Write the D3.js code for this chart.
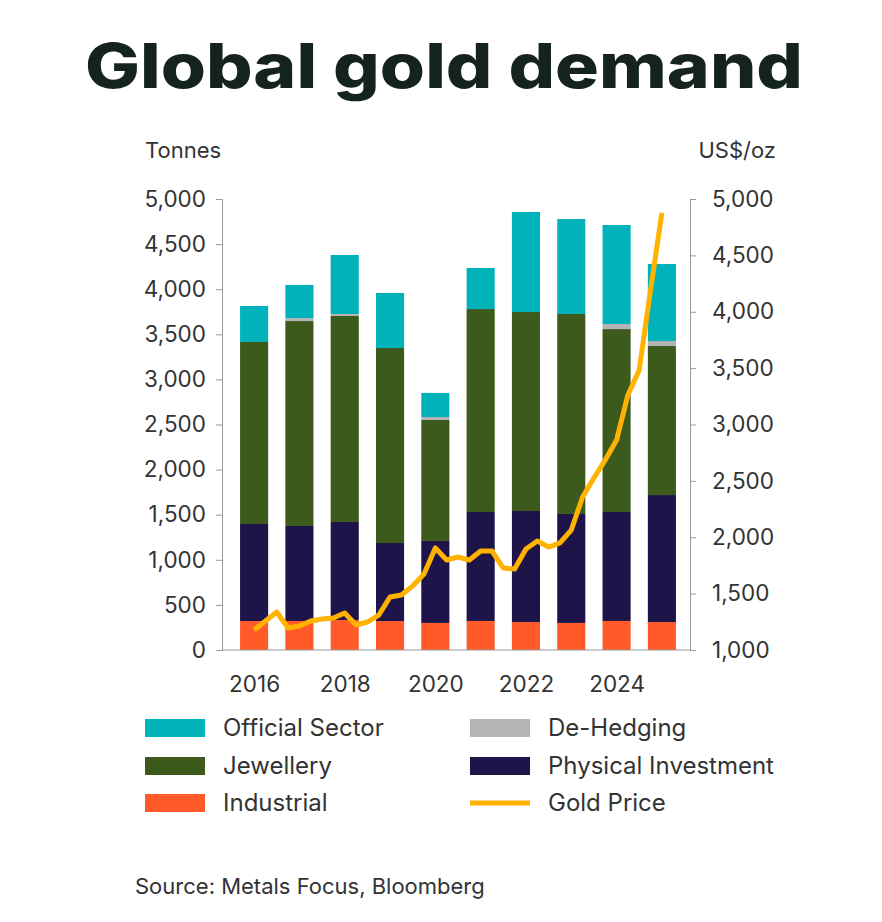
<!DOCTYPE html><html><head><meta charset="utf-8"><script src="https://cdn.jsdelivr.net/npm/d3@7"></script>
<style>body{margin:0;background:#fff}</style></head><body><svg id="c" width="882" height="922"></svg>
<script>
const years=[2016,2017,2018,2019,2020,2021,2022,2023,2024,2025];
const industrial=[321,322,333,321,300,322,310,300,322,310];
const physical=[1076,1053,1086,865,908,1208,1231,1208,1208,1408];
const jewellery=[2018,2272,2284,2162,1342,2250,2206,2217,2028,1652];
const dehedging=[0,33,22,0,33,0,0,0,56,55];
const official=[399,367,654,610,267,455,1109,1053,1098,854];
const priceQuarter=d3.range(37).map(i=>2016+i*0.25);
const price=[1177,1257,1337,1195,1213,1257,1275,1284,1328,1222,1248,1310,1470,1488,1568,1674,1905,1798,1825,1798,1878,1878,1727,1718,1896,1967,1913,1950,2064,2357,2525,2685,2862,3262,3484,4193,4876];
const leftTicks=[0,500,1000,1500,2000,2500,3000,3500,4000,4500,5000];
const rightTicks=[1000,1500,2000,2500,3000,3500,4000,4500,5000];
const xTickYears=[2016,2018,2020,2022,2024];
const seriesNames=["Industrial","Physical Investment","Jewellery","De-Hedging","Official Sector"];
const colors={"Official Sector":"#00b2b9","De-Hedging":"#b4b4b4","Jewellery":"#3d5a1d","Physical Investment":"#1f1449","Industrial":"#ff5a28","Gold Price":"#ffb300"};
const svg=d3.select("#c");const F="Inter, 'Noto Sans', sans-serif";
svg.append("text").attr("x",444).attr("y",88).attr("text-anchor","middle").attr("font-family",F).attr("font-weight",800).attr("font-size",62).attr("textLength",718).attr("lengthAdjust","spacingAndGlyphs").attr("fill","#14231d").text("Global gold demand");
const x=d3.scaleBand().domain(years).range([231,685]).paddingInner(0.38).paddingOuter(0.2);
const y=d3.scaleLinear().domain([0,5000]).range([650,199]);
const y2=d3.scaleLinear().domain([1000,5000]).range([650,199]);
const rows=years.map((yr,i)=>({year:yr,"Industrial":industrial[i],"Physical Investment":physical[i],"Jewellery":jewellery[i],"De-Hedging":dehedging[i],"Official Sector":official[i]}));
const stack=d3.stack().keys(seriesNames)(rows);
svg.append("g").selectAll("g").data(stack).join("g").attr("fill",d=>colors[d.key]).selectAll("rect").data(d=>d).join("rect")
 .attr("x",d=>x(d.data.year)).attr("width",x.bandwidth()).attr("y",d=>y(d[1])).attr("height",d=>y(d[0])-y(d[1]));
const axL=svg.append("g").attr("transform","translate(222,0)").call(d3.axisLeft(y).tickValues(leftTicks).tickFormat(d3.format(",")).tickSize(6).tickPadding(10));
const axR=svg.append("g").attr("transform","translate(690,0)").call(d3.axisRight(y2).tickValues(rightTicks).tickFormat(d3.format(",")).tickSize(6).tickPadding(16));
const xc=yr=>x(yr)+x.bandwidth()/2;
const axB=svg.append("g").attr("transform","translate(0,650)").call(d3.axisBottom(d3.scaleLinear().domain([2016,2025]).range([xc(2016),xc(2025)])).tickValues(xTickYears).tickFormat(d3.format("d")).tickSize(0).tickPadding(26));
axB.select(".domain").attr("d","M222,0H690");
[axL,axR,axB].forEach(a=>{a.selectAll("text").attr("font-family",F).attr("font-size",22.5).attr("fill","#333");a.selectAll("path,line").attr("stroke","#999");});
const xs=d3.scaleLinear().domain([2016,2025]).range([xc(2016),xc(2025)]);
svg.append("path").datum(priceQuarter.map((q,i)=>[q,price[i]])).attr("fill","none").attr("stroke",colors["Gold Price"]).attr("stroke-width",5).attr("stroke-linejoin","round")
 .attr("d",d3.line().x(d=>xs(d[0])).y(d=>y2(d[1])));
svg.append("text").attr("x",145).attr("y",158).attr("font-family",F).attr("font-size",22).attr("fill","#333").text("Tonnes");
svg.append("text").attr("x",776).attr("y",158).attr("text-anchor","end").attr("font-family",F).attr("font-size",22).attr("fill","#333").text("US$/oz");
const leg=[["Official Sector",145,728],["De-Hedging",470,728],["Jewellery",145,766],["Physical Investment",470,766],["Industrial",145,803],["Gold Price",470,803]];
leg.forEach(([n,lx,ly])=>{
 if(n==="Gold Price") svg.append("line").attr("x1",lx).attr("x2",lx+60).attr("y1",ly).attr("y2",ly).attr("stroke",colors[n]).attr("stroke-width",5);
 else svg.append("rect").attr("x",lx).attr("y",ly-9).attr("width",60).attr("height",18).attr("fill",colors[n]);
 svg.append("text").attr("x",lx+78).attr("y",ly+8).attr("font-family",F).attr("font-size",24).attr("fill","#333").text(n);
});
svg.append("text").attr("x",135).attr("y",894).attr("font-family",F).attr("font-size",22).attr("fill","#333").text("Source: Metals Focus, Bloomberg");
</script></body></html>
